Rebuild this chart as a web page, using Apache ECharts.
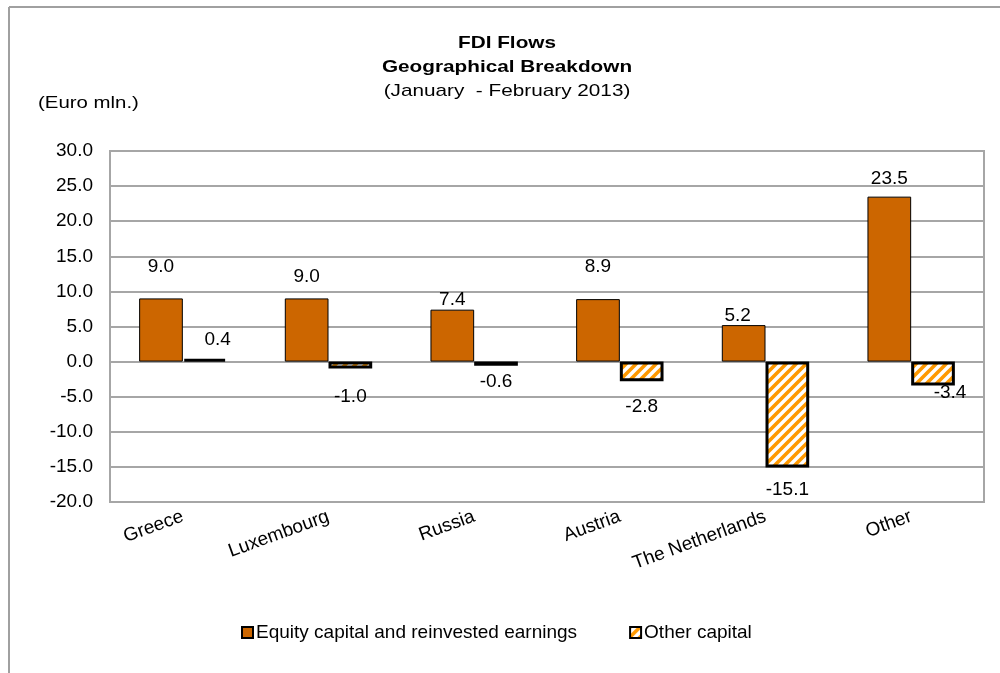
<!DOCTYPE html>
<html>
<head>
<meta charset="utf-8">
<script src="https://cdn.jsdelivr.net/npm/echarts@6/dist/echarts.min.js"></script>
<style>
html,body{margin:0;padding:0;background:#fff;}
#chart{width:1000px;height:673px;}
</style>
</head>
<body>
<div id="chart"></div>
<script>
const categories = ['Greece', 'Luxembourg', 'Russia', 'Austria', 'The Netherlands', 'Other'];
const equityValues = [9.0, 9.0, 7.4, 8.9, 5.2, 23.5];
const otherCapitalValues = [0.4, -1.0, -0.6, -2.8, -15.1, -3.4];
const seriesNames = ['Equity capital and reinvested earnings', 'Other capital'];
const titleLines = ['FDI Flows', 'Geographical Breakdown', '(January  - February 2013)'];
const unitLabel = '(Euro mln.)';

const FONT = "'Liberation Sans', Arial, sans-serif";

function makeHatch() {
  const c = document.createElement('canvas');
  c.width = 10; c.height = 10;
  const ctx = c.getContext('2d');
  ctx.fillStyle = '#ffffff';
  ctx.fillRect(0, 0, 10, 10);
  ctx.strokeStyle = '#ff9900';
  ctx.lineWidth = 3.6;
  ctx.beginPath();
  ctx.moveTo(-5, 5); ctx.lineTo(5, -5);
  ctx.moveTo(0, 10); ctx.lineTo(10, 0);
  ctx.moveTo(5, 15); ctx.lineTo(15, 5);
  ctx.stroke();
  return c;
}
const hatch = makeHatch();

const chart = echarts.init(document.getElementById('chart'), null, {renderer: 'canvas'});

const labelBase = {
  show: true,
  fontFamily: FONT,
  fontSize: 19,
  color: '#000',
  formatter: p => p.value.toFixed(1)
};

// manual label nudges (as placed in the original chart)
const equityLabelNudge = [[0, -4], [0, 6], [0, 18], [0, -5], [-6, 18], [0, 10]];
const otherLabelNudge = [[13, 5], [0, 5], [0, -8], [0, 2], [0, -1], [17, -16]];

function titleText(text, y, bold) {
  return {
    type: 'text', x: 507, y: y, scaleX: 1.22,
    style: {
      text: text, textAlign: 'center', textVerticalAlign: 'middle',
      font: (bold ? 'bold ' : '') + "17px 'Liberation Sans', Arial", fill: '#000'
    }
  };
}

chart.setOption({
  backgroundColor: '#ffffff',
  animation: false,
  textStyle: {fontFamily: FONT},
  graphic: [
    {type: 'line', shape: {x1: 9, y1: 7, x2: 1000, y2: 7}, style: {stroke: '#a0a0a0', lineWidth: 2}},
    {type: 'line', shape: {x1: 9, y1: 7, x2: 9, y2: 673}, style: {stroke: '#a0a0a0', lineWidth: 2}},
    titleText(titleLines[0], 43, true),
    titleText(titleLines[1], 67, true),
    titleText(titleLines[2], 91, false),
    {
      type: 'text', x: 38, y: 103, scaleX: 1.2,
      style: {text: unitLabel, textVerticalAlign: 'middle', font: "17px 'Liberation Sans', Arial", fill: '#000'}
    }
  ],
  grid: {
    left: 110, top: 151, right: 16, bottom: 171,
    show: true, borderColor: '#a6a6a6', borderWidth: 2, backgroundColor: 'transparent'
  },
  legend: {
    left: 236, top: 618,
    itemWidth: 11, itemHeight: 11, itemGap: 52,
    icon: 'rect',
    textStyle: {fontFamily: FONT, fontSize: 19, color: '#000', padding: [0, 0, 0, -2]},
    data: seriesNames
  },
  xAxis: {
    type: 'category',
    data: categories,
    axisLine: {show: false},
    axisTick: {show: false},
    axisLabel: {rotate: 20, fontFamily: FONT, fontSize: 19, color: '#000', margin: 14, interval: 0}
  },
  yAxis: {
    type: 'value',
    min: -20, max: 30, interval: 5,
    axisLine: {show: false},
    axisTick: {show: false},
    splitLine: {lineStyle: {color: '#a6a6a6', width: 2}},
    axisLabel: {fontFamily: FONT, fontSize: 19, color: '#000', margin: 17, formatter: v => v.toFixed(1)}
  },
  series: [
    {
      name: seriesNames[0],
      type: 'bar',
      data: equityValues.map((v, i) => ({
        value: v,
        label: {offset: equityLabelNudge[i]}
      })),
      barGap: '0%',
      barCategoryGap: '40%',
      itemStyle: {color: '#cc6600', borderColor: '#000', borderWidth: 1},
      label: Object.assign({}, labelBase, {position: 'top', distance: 18})
    },
    {
      name: seriesNames[1],
      type: 'bar',
      data: otherCapitalValues.map((v, i) => ({
        value: v,
        label: {position: v >= 0 ? 'top' : 'bottom', offset: otherLabelNudge[i]}
      })),
      itemStyle: {color: {image: hatch, repeat: 'repeat'}, borderColor: '#000', borderWidth: 3},
      label: Object.assign({}, labelBase, {distance: 14})
    }
  ]
});
</script>
</body>
</html>
